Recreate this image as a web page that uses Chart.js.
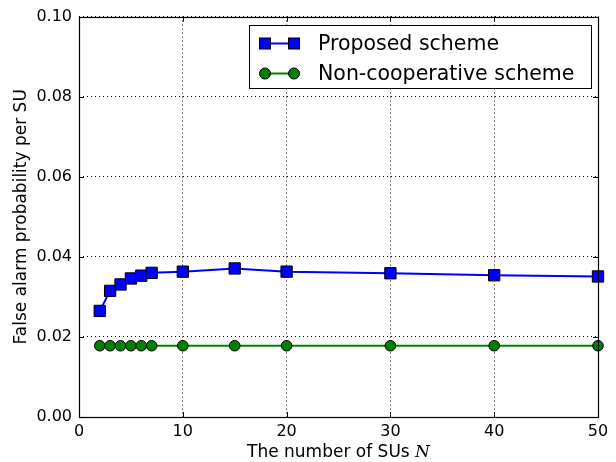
<!DOCTYPE html>
<html>
<head>
<meta charset="utf-8">
<script src="https://cdn.jsdelivr.net/npm/chart.js@4/dist/chart.umd.min.js"></script>
<style>
  html, body { margin: 0; padding: 0; background: #fff; }
  #wrap { width: 616px; height: 462px; }
</style>
</head>
<body>
<div id="wrap"><canvas id="c" width="616" height="462"></canvas></div>
<script>
// dữ liệu
const numSUs = [2, 3, 4, 5, 6, 7, 10, 15, 20, 30, 40, 50];
const proposed = [0.0265, 0.0315, 0.0331, 0.0346, 0.0353, 0.0360, 0.0363, 0.0371, 0.0363, 0.0359, 0.0354, 0.0351];
const nonCoop = [0.0178, 0.0178, 0.0178, 0.0178, 0.0178, 0.0178, 0.0178, 0.0178, 0.0178, 0.0178, 0.0178, 0.0178];
const xTicks = [0, 10, 20, 30, 40, 50];
const yTicks = [0, 0.02, 0.04, 0.06, 0.08, 0.10];
const seriesNames = ['Proposed scheme', 'Non-cooperative scheme'];

const FONT = 'DejaVu Sans';

// khung, vạch chia hướng vào trong, tiêu đề trục x và chú giải
const framePlugin = {
    id: 'frame',
    afterDraw(chart) {
        const { ctx, chartArea: a, scales } = chart;
        ctx.save();
        ctx.strokeStyle = '#000';
        ctx.lineWidth = 1;
        ctx.beginPath();
        xTicks.forEach(v => {
            const x = Math.round(scales.x.getPixelForValue(v)) + 0.5;
            ctx.moveTo(x, a.bottom); ctx.lineTo(x, a.bottom - 5);
            ctx.moveTo(x, a.top); ctx.lineTo(x, a.top + 5);
        });
        yTicks.forEach(v => {
            const y = Math.round(scales.y.getPixelForValue(v)) + 0.5;
            ctx.moveTo(a.left, y); ctx.lineTo(a.left + 5, y);
            ctx.moveTo(a.right, y); ctx.lineTo(a.right - 5, y);
        });
        ctx.stroke();
        ctx.lineWidth = 1.2;
        ctx.strokeRect(Math.round(a.left) + 0.5, Math.round(a.top) + 0.5,
            Math.round(a.right - a.left), Math.round(a.bottom - a.top));

        // tiêu đề trục x, chữ N in nghiêng
        const t1 = 'The number of SUs ';
        const t2 = 'N';
        ctx.fillStyle = '#000';
        ctx.textBaseline = 'alphabetic';
        ctx.font = '17px "' + FONT + '"';
        const w1 = ctx.measureText(t1).width;
        ctx.font = 'italic 17px "DejaVu Serif"';
        const w2 = ctx.measureText(t2).width;
        const cx = (a.left + a.right) / 2;
        let x0 = cx - (w1 + w2) / 2;
        ctx.font = '17px "' + FONT + '"';
        ctx.fillText(t1, x0, 456.5);
        ctx.font = 'italic 17px "DejaVu Serif"';
        ctx.fillText(t2, x0 + w1, 456.5);

        // chú giải
        const lx = 249.5, ly = 25.5, lw = 342, lh = 63;
        ctx.fillStyle = '#fff';
        ctx.fillRect(lx, ly, lw, lh);
        ctx.strokeStyle = '#000';
        ctx.lineWidth = 1;
        ctx.strokeRect(lx, ly, lw, lh);
        chart.data.datasets.forEach((ds, i) => {
            const yy = 43.5 + i * 30;
            const xa = 265, xb = 294;
            ctx.strokeStyle = ds.borderColor;
            ctx.lineWidth = 2;
            ctx.beginPath(); ctx.moveTo(xa, yy); ctx.lineTo(xb, yy); ctx.stroke();
            [xa, xb].forEach(px => {
                ctx.fillStyle = ds.pointBackgroundColor;
                ctx.strokeStyle = '#000';
                ctx.lineWidth = 1;
                if (ds.pointStyle === 'rect') {
                    ctx.fillRect(px - 5.5, yy - 5.5, 11, 11);
                    ctx.strokeRect(px - 5.5, yy - 5.5, 11, 11);
                } else {
                    ctx.beginPath(); ctx.arc(px, yy, 5.5, 0, Math.PI * 2);
                    ctx.fill(); ctx.stroke();
                }
            });
            ctx.fillStyle = '#000';
            ctx.font = '20.5px "' + FONT + '"';
            ctx.textBaseline = 'middle';
            ctx.fillText(ds.label, 318, yy + 1);
        });
        ctx.restore();
    }
};

new Chart(document.getElementById('c'), {
    type: 'line',
    data: {
        datasets: [
            {
                label: seriesNames[0],
                data: numSUs.map((n, i) => ({ x: n, y: proposed[i] })),
                borderColor: '#0000ff',
                borderWidth: 2,
                pointStyle: 'rect',
                pointRadius: 8,
                pointBackgroundColor: '#0000ff',
                pointBorderColor: '#000',
                pointBorderWidth: 1,
                tension: 0
            },
            {
                label: seriesNames[1],
                data: numSUs.map((n, i) => ({ x: n, y: nonCoop[i] })),
                borderColor: '#008000',
                borderWidth: 2,
                pointStyle: 'circle',
                pointRadius: 5.3,
                pointBackgroundColor: '#008000',
                pointBorderColor: '#000',
                pointBorderWidth: 1,
                tension: 0
            }
        ]
    },
    options: {
        responsive: false,
        animation: false,
        clip: false,
        layout: { padding: { left: 0, right: 18, top: 13.9, bottom: 15.4 } },
        plugins: {
            legend: { display: false },
            tooltip: { enabled: false }
        },
        scales: {
            x: {
                type: 'linear',
                min: 0,
                max: 50,
                afterBuildTicks: s => { s.ticks = xTicks.map(v => ({ value: v })); },
                grid: { color: '#000', lineWidth: 1, drawTicks: false },
                border: { display: false, dash: [1, 3] },
                ticks: {
                    color: '#000',
                    padding: 5.2,
                    font: { family: FONT, size: 16 },
                    maxRotation: 0
                },
                title: { display: false }
            },
            y: {
                min: 0,
                max: 0.1,
                afterBuildTicks: s => { s.ticks = yTicks.map(v => ({ value: v })); },
                afterFit: s => { s.width = 79; },
                grid: { color: '#000', lineWidth: 1, drawTicks: false },
                border: { display: false, dash: [1, 3] },
                ticks: {
                    color: '#000',
                    padding: 7,
                    font: { family: FONT, size: 16 },
                    callback: v => v.toFixed(2)
                },
                title: {
                    display: true,
                    text: 'False alarm probability per SU',
                    color: '#000',
                    font: { family: FONT, size: 17 },
                    padding: { top: 11, bottom: 0 }
                }
            }
        }
    },
    plugins: [framePlugin]
});
</script>
</body>
</html>
